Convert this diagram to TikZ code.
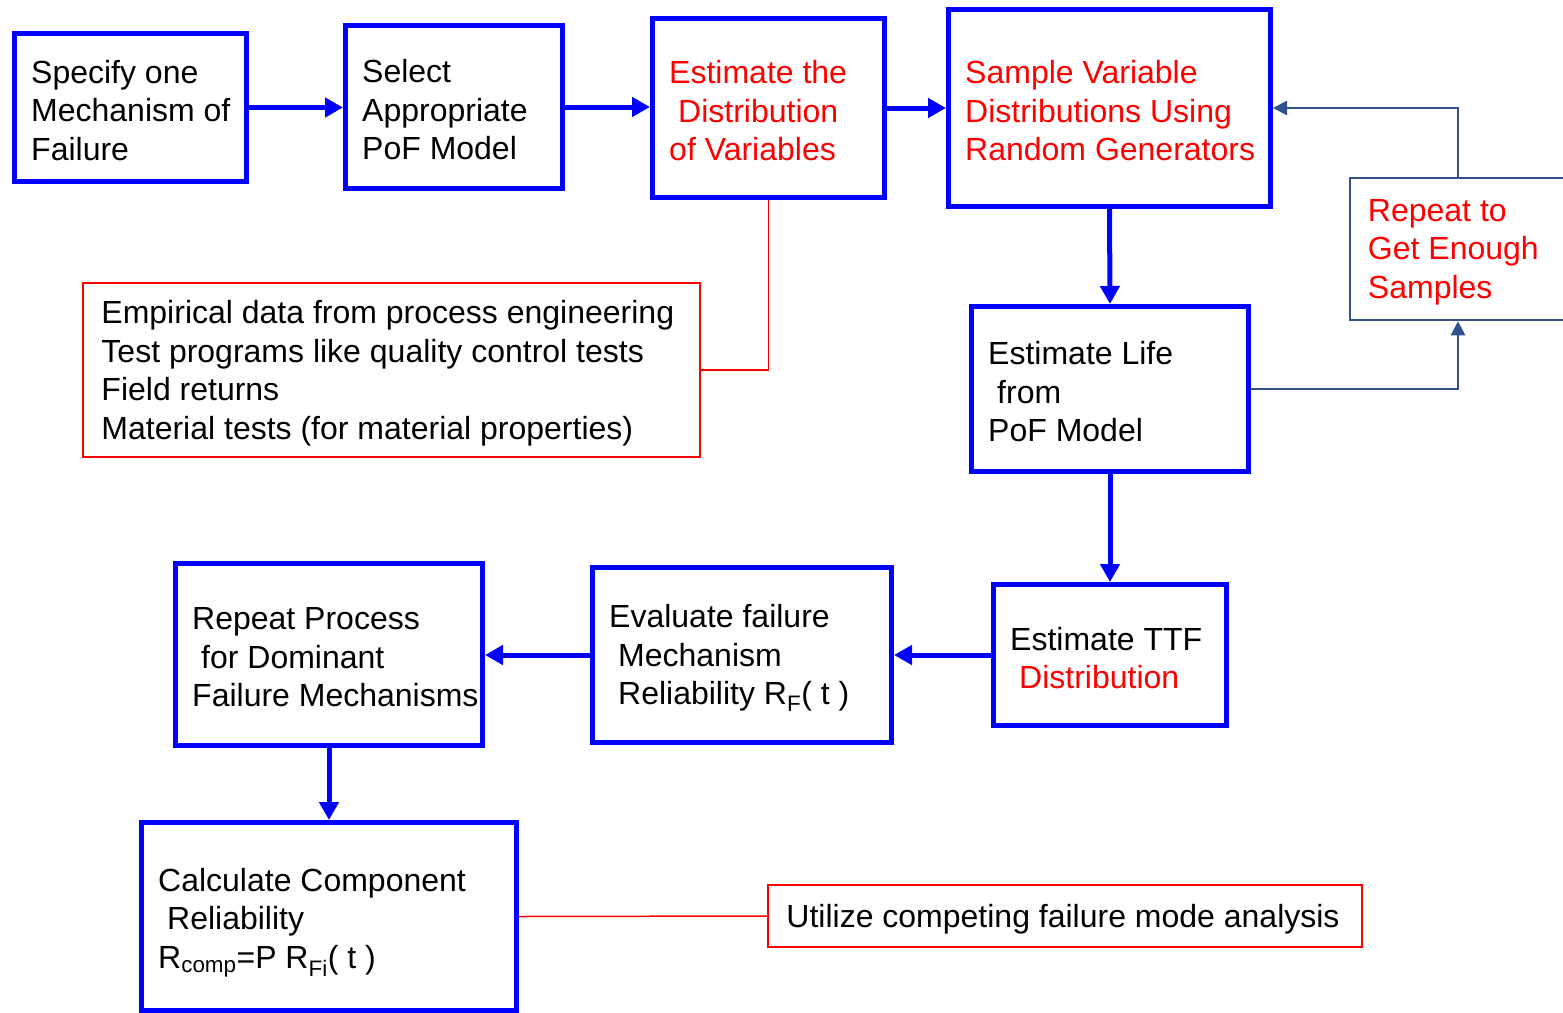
\documentclass[tikz,border=0pt]{standalone}
\usepackage{fontspec}
\setmainfont{Liberation Sans}
\usetikzlibrary{arrows.meta,calc}
\definecolor{pblue}{RGB}{0,0,255}
\definecolor{dblue}{RGB}{47,82,143}
\definecolor{pred}{RGB}{255,0,0}
\tikzset{
  bbox/.style={draw=pblue, line width=5pt, inner sep=0pt},
  rbox/.style={draw=pred, line width=1.5pt, inner sep=0pt},
  dbox/.style={draw=dblue, line width=2.5pt, inner sep=0pt},
  txt/.style={anchor=west, align=left, inner sep=0pt, yshift=-3pt, font=\fontsize{32}{38.5}\selectfont},
  barrow/.style={draw=pblue, line width=5pt, -{Triangle[length=18pt,width=19pt]}},
  darrow/.style={draw=dblue, line width=2.5pt, -{Triangle[length=14pt,width=14pt]}},
  rline/.style={draw=pred, line width=1.5pt},
}
\begin{document}
\begin{tikzpicture}[x=1pt,y=-1pt]
\clip (0,0) rectangle (1563,1012);
\fill[white] (0,0) rectangle (1563,1012);
% boxes
\node[bbox, minimum width=232pt, minimum height=148pt] (b1) at (130.5,107.5) {};
\node[bbox, minimum width=217pt, minimum height=163pt] (b2) at (454,107) {};
\node[bbox, minimum width=232pt, minimum height=179pt] (b3) at (768.5,108) {};
\node[bbox, minimum width=322pt, minimum height=197pt] (b4) at (1109.5,108) {};
\node[dbox, minimum width=216pt, minimum height=142pt] (rep) at (1458,249) {};
\node[rbox, minimum width=617pt, minimum height=174pt] (emp) at (391.5,370) {};
\node[bbox, minimum width=277pt, minimum height=165pt] (b7) at (1110,389) {};
\node[bbox, minimum width=233pt, minimum height=141pt] (b8) at (1110,655) {};
\node[bbox, minimum width=299pt, minimum height=175pt] (b9) at (742,655) {};
\node[bbox, minimum width=307pt, minimum height=182pt] (b10) at (329,654.5) {};
\node[bbox, minimum width=375pt, minimum height=188pt] (b11) at (329,916.5) {};
\node[rbox, minimum width=594pt, minimum height=62pt] (util) at (1065,916) {};
% texts
\node[txt] (t1) at ([xshift=19pt]b1.west) {Specify one\\Mechanism of\\Failure};
\node[txt] (t2) at ([xshift=19pt]b2.west) {Select\\Appropriate\\PoF Model};
\node[txt, text=pred] (t3) at ([xshift=19pt]b3.west) {Estimate the\\\hspace*{9pt}Distribution\\of Variables};
\node[txt, text=pred] (t4) at ([xshift=19pt]b4.west) {Sample Variable\\Distributions Using\\Random Generators};
\node[txt, text=pred] (trep) at ([xshift=19pt]rep.west) {Repeat to\\Get Enough\\Samples};
\node[txt] (temp) at ([xshift=19pt]emp.west) {Empirical data from process engineering\\Test programs like quality control tests\\Field returns\\Material tests (for material properties)};
\node[txt] (t7) at ([xshift=19pt]b7.west) {Estimate Life\\\hspace*{9pt}from\\PoF Model};
\node[txt] (t8) at ([xshift=19pt]b8.west) {Estimate TTF\\\hspace*{9pt}\textcolor{pred}{Distribution}};
\node[txt] (t9) at ([xshift=19pt]b9.west) {Evaluate failure\\\hspace*{9pt}Mechanism\\\hspace*{9pt}Reliability R\textsubscript{F}( t )};
\node[txt] (t10) at ([xshift=19pt]b10.west) {Repeat Process\\\hspace*{9pt}for Dominant\\Failure Mechanisms};
\node[txt, yshift=-3pt] (t11) at ([xshift=19pt]b11.west) {Calculate Component\\\hspace*{9pt}Reliability\\R\textsubscript{comp}=P R\textsubscript{Fi}( t )};
\node[txt] (tutil) at ([xshift=19pt]util.west) {Utilize competing failure mode analysis};
% connectors
\draw[barrow] (b1.east) -- (b1.east -| b2.west);
\draw[barrow] (b2.east) -- (b2.east -| b3.west);
\draw[barrow] (b3.east) -- (b3.east -| b4.west);
\draw[barrow] (b4.south) -- (b7.north);
\draw[barrow] (b7.south) -- (b8.north);
\draw[barrow] (b8.west) -- (b8.west -| b9.east);
\draw[barrow] (b9.west) -- (b9.west -| b10.east);
\draw[barrow] (b10.south) -- (b11.north);
\draw[darrow] (b7.east) -| (rep.south);
\draw[darrow] (rep.north) |- (b4.east);
\draw[rline] (b3.south) |- (emp.east);
\draw[rline] (b11.east) -- (util.west);
\end{tikzpicture}
\end{document}
